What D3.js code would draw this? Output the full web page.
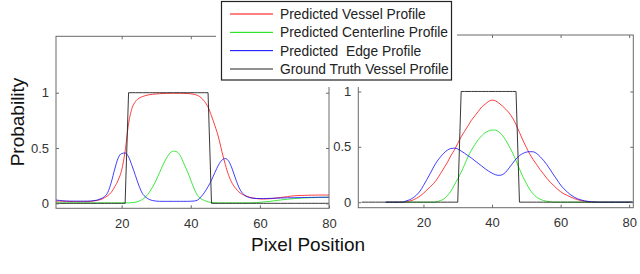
<!DOCTYPE html>
<html><head><meta charset="utf-8">
<script src="https://cdnjs.cloudflare.com/ajax/libs/d3/7.8.5/d3.min.js"></script>
<style>html,body{margin:0;padding:0;background:#fff;}svg{display:block;}</style>
</head><body><svg id="c" width="640" height="274"></svg>
<script>
// ---------- data ----------
const legendLabels = ["Predicted Vessel Profile", "Predicted Centerline Profile", "Predicted  Edge Profile", "Ground Truth Vessel Profile"];
const seriesColors = ["#ff0000", "#00e000", "#0000ff", "#222222"];
const xTicks = [20, 40, 60, 80];
const yTicks = [0, 0.5, 1];
const yTickLabels = ["0", "0.5", "1"];

// left panel, pixel positions 1..80
const leftX = d3.range(1, 81);
const leftVessel = [0.02,0.02,0.019,0.018,0.017,0.016,0.015,0.015,0.015,0.016,0.018,0.022,0.027,0.035,0.05,0.07,0.1,0.15,0.21,0.3,0.47,0.72,0.86,0.92,0.95,0.965,0.975,0.982,0.986,0.989,0.991,0.993,0.994,0.995,0.995,0.995,0.995,0.994,0.993,0.99,0.985,0.975,0.955,0.92,0.87,0.79,0.7,0.6,0.47,0.35,0.25,0.18,0.135,0.1,0.08,0.065,0.055,0.048,0.043,0.04,0.039,0.04,0.042,0.045,0.049,0.053,0.057,0.061,0.065,0.068,0.07,0.071,0.072,0.073,0.074,0.074,0.075,0.075,0.075,0.075];
const leftCenter = [0.004,0.004,0.004,0.004,0.004,0.004,0.004,0.004,0.004,0.004,0.004,0.004,0.004,0.004,0.004,0.004,0.004,0.004,0.004,0.004,0.004,0.004,0.006,0.01,0.02,0.035,0.06,0.1,0.15,0.21,0.28,0.35,0.41,0.455,0.472,0.465,0.43,0.36,0.29,0.21,0.13,0.07,0.04,0.025,0.013,0.007,0.005,0.004,0.004,0.004,0.004,0.004,0.004,0.004,0.004,0.004,0.004,0.005,0.007,0.01,0.012,0.015,0.018,0.022,0.026,0.03,0.034,0.037,0.04,0.043,0.045,0.047,0.049,0.05,0.051,0.052,0.053,0.054,0.055,0.055];
const leftEdge = [0.03,0.026,0.023,0.021,0.02,0.02,0.02,0.02,0.02,0.02,0.021,0.024,0.03,0.042,0.06,0.1,0.19,0.31,0.41,0.45,0.455,0.42,0.34,0.25,0.16,0.09,0.055,0.035,0.025,0.02,0.018,0.018,0.018,0.018,0.018,0.018,0.018,0.018,0.018,0.019,0.021,0.03,0.06,0.1,0.15,0.21,0.28,0.345,0.39,0.405,0.38,0.31,0.22,0.14,0.09,0.065,0.052,0.046,0.044,0.043,0.043,0.044,0.045,0.046,0.047,0.048,0.049,0.05,0.05,0.051,0.052,0.052,0.053,0.053,0.054,0.054,0.055,0.055,0.055,0.055];
const leftTruth = [0,0,0,0,0,0,0,0,0,0,0,0,0,0,0,0,0,0,0,0,0,1,1,1,1,1,1,1,1,1,1,1,1,1,1,1,1,1,1,1,1,1,1,1,1,0,0,0,0,0,0,0,0,0,0,0,0,0,0,0,0,0,0,0,0,0,0,0,0,0,0,0,0,0,0,0,0,0,0,0];

// right panel
const rightTruthX = d3.range(2, 82);
const rightTruth = [0,0,0,0,0,0,0,0,0,0,0,0,0,0,0,0,0,0,0,0,0,0,0,0,0,0,0,0,0,1,1,1,1,1,1,1,1,1,1,1,1,1,1,1,1,1,0,0,0,0,0,0,0,0,0,0,0,0,0,0,0,0,0,0,0,0,0,0,0,0,0,0,0,0,0,0,0,0,0,0];
const rightX = d3.range(9, 82);
const rightVessel = [0,0,0,0,0,0,0.005,0.01,0.02,0.035,0.055,0.08,0.11,0.14,0.17,0.21,0.26,0.31,0.36,0.42,0.47,0.53,0.59,0.64,0.69,0.74,0.78,0.82,0.86,0.885,0.91,0.922,0.915,0.895,0.87,0.84,0.805,0.76,0.7,0.63,0.56,0.495,0.435,0.385,0.34,0.295,0.255,0.215,0.18,0.15,0.12,0.095,0.075,0.06,0.045,0.032,0.022,0.014,0.008,0.004,0,0,0,0,0,0,0,0,0,0,0,0,0];
const rightCenter = [0,0,0,0,0,0,0,0,0,0,0,0,0,0,0,0.005,0.015,0.03,0.06,0.1,0.155,0.21,0.27,0.34,0.41,0.47,0.52,0.565,0.6,0.627,0.643,0.652,0.65,0.635,0.605,0.56,0.505,0.445,0.375,0.3,0.23,0.17,0.115,0.075,0.045,0.027,0.015,0.008,0.004,0,0,0,0,0,0,0,0,0,0,0,0,0,0,0,0,0,0,0,0,0,0,0,0];
const rightEdge = [0,0,0,0,0,0,0.012,0.022,0.04,0.065,0.1,0.15,0.205,0.26,0.32,0.37,0.41,0.445,0.47,0.485,0.488,0.48,0.462,0.442,0.42,0.398,0.374,0.35,0.326,0.302,0.28,0.262,0.248,0.242,0.248,0.272,0.31,0.35,0.39,0.42,0.44,0.452,0.456,0.455,0.44,0.412,0.378,0.338,0.292,0.245,0.2,0.155,0.12,0.09,0.065,0.045,0.03,0.02,0.012,0.007,0.004,0.002,0,0,0,0,0,0,0,0,0,0,0];

// ---------- drawing ----------
const svg = d3.select("#c");
const font = "'Liberation Sans', Arial, sans-serif";
const frameColor = "#6a6a6a";
const textColor = "#333";

function panel(cfg) {
  const x = d3.scaleLinear().domain(cfg.xd).range(cfg.xr);
  const y = d3.scaleLinear().domain(cfg.yd).range(cfg.yr);
  const g = svg.append("g");
  const [x0, x1] = cfg.xr, [y0, y1] = cfg.yr; // y0 bottom, y1 top
  const lineGen = (xs, curve) => d3.line().x((d, i) => x(xs[i])).y(d => y(d)).curve(curve);
  const series = [
    [cfg.xs, cfg.vessel, seriesColors[0], d3.curveMonotoneX],
    [cfg.xs, cfg.center, seriesColors[1], d3.curveMonotoneX],
    [cfg.xs, cfg.edge, seriesColors[2], d3.curveMonotoneX],
    [cfg.txs, cfg.truth, seriesColors[3], d3.curveLinear]
  ];
  series.forEach(([xs, vals, col, curve]) => {
    g.append("path").datum(vals).attr("d", lineGen(xs, curve))
      .attr("fill", "none").attr("stroke", col).attr("stroke-width", 1)
      .attr("stroke-opacity", col === seriesColors[3] ? 0.9 : 0.75);
  });
  // frame
  g.append("rect").attr("x", x0).attr("y", y1).attr("width", x1 - x0).attr("height", y0 - y1)
    .attr("fill", "none").attr("stroke", frameColor).attr("stroke-width", 1);
  // axes
  const bottom = d3.axisBottom(x).tickValues(xTicks).tickSize(-3).tickPadding(10).tickFormat(d3.format("d"));
  const top = d3.axisTop(x).tickValues(xTicks).tickSize(-3).tickFormat("");
  const left = d3.axisLeft(y).tickValues(yTicks).tickSize(-3).tickPadding(7).tickFormat((d, i) => yTickLabels[i]);
  const right = d3.axisRight(y).tickValues(yTicks).tickSize(-3).tickFormat("");
  [[bottom, `translate(0,${y0})`], [top, `translate(0,${y1})`], [left, `translate(${x0},0)`], [right, `translate(${x1},0)`]]
    .forEach(([ax, tr]) => {
      const a = g.append("g").attr("transform", tr).call(ax);
      a.select(".domain").remove();
      a.selectAll("line").attr("stroke", frameColor);
      a.selectAll("text").attr("fill", textColor).style("font-family", font).style("font-size", "13px");
    });
}

panel({xd: [1, 80], xr: [56, 329], yd: [-0.045, 1.51], yr: [208.3, 36.3],
  xs: leftX, txs: leftX, vessel: leftVessel, center: leftCenter, edge: leftEdge, truth: leftTruth});
panel({xd: [1, 81.2], xr: [358.3, 633.3], yd: [-0.05, 1.51], yr: [207.7, 35],
  xs: rightX, txs: rightTruthX, vessel: rightVessel, center: rightCenter, edge: rightEdge, truth: rightTruth});

// axis titles
svg.append("text").attr("x", 308).attr("y", 251).attr("text-anchor", "middle")
  .style("font-family", font).style("font-size", "19px").attr("fill", "#111").text("Pixel Position");
svg.append("text").attr("transform", "translate(24,122) rotate(-90)").attr("text-anchor", "middle")
  .style("font-family", font).style("font-size", "19px").attr("fill", "#111").text("Probability");

// legend
const lg = svg.append("g");
lg.append("rect").attr("x", 216).attr("y", 0).attr("width", 241).attr("height", 87).attr("fill", "#fff");
lg.append("rect").attr("x", 221.5).attr("y", 1.5).attr("width", 230).attr("height", 78.5)
  .attr("fill", "#fff").attr("stroke", "#222").attr("stroke-width", 1.2);
const rowY = d3.scalePoint().domain(legendLabels).range([14, 69]);
legendLabels.forEach((lab, i) => {
  lg.append("line").attr("x1", 230).attr("x2", 273).attr("y1", rowY(lab)).attr("y2", rowY(lab))
    .attr("stroke", seriesColors[i]).attr("stroke-width", 1);
  lg.append("text").attr("x", 280).attr("y", rowY(lab) + 5).attr("xml:space", "preserve")
    .style("white-space", "pre").style("font-family", font).style("font-size", "13.8px")
    .attr("fill", "#222").text(lab);
});
</script></body></html>
